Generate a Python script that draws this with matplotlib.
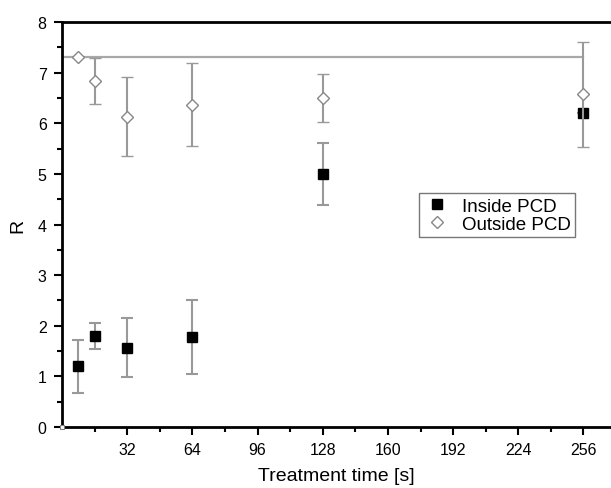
import matplotlib.pyplot as plt
from matplotlib.lines import Line2D

plt.rcParams['font.family'] = ['Liberation Sans', 'DejaVu Sans']

# treatment times [s]
t = [8, 16, 32, 64, 128, 256]

# inside PCD
r_in = [1.2, 1.8, 1.57, 1.77, 5.0, 6.2]
err_in = [0.52, 0.26, 0.59, 0.73, 0.61, 0.0]

# outside PCD
r_out = [7.3, 6.83, 6.13, 6.37, 6.5, 6.57]
err_out = [0.0, 0.45, 0.78, 0.82, 0.47, 1.03]

# reference level (untreated)
r_ref = 7.3
t_ref = [0, 256]

fig = plt.figure(figsize=(6.11, 4.89), dpi=100)
ax = fig.add_axes([0.1015, 0.1247, 0.8985, 0.8283])

ax.plot(t_ref, [r_ref, r_ref], color='#a8a8a8', lw=1.6, zorder=1)

ax.errorbar(t, r_in, yerr=err_in, fmt='s', color='black', ms=7,
            ecolor='#999999', elinewidth=1.5, capsize=4, capthick=1.5,
            zorder=3)
ax.errorbar(t, r_out, yerr=err_out, fmt='D', mfc='white', mec='#888888',
            ms=6.5, mew=1.0, ecolor='#999999', elinewidth=1.5, capsize=4,
            capthick=1.5, zorder=4)

# small open marker at origin
ax.plot([0], [0], 's', mfc='white', mec='#808080', ms=3, mew=0.8,
        clip_on=False, zorder=5)

ax.set_xlim(0, 269.5)
ax.set_ylim(0, 8)
ax.set_xticks([32, 64, 96, 128, 160, 192, 224, 256])
ax.set_xticks([16, 48, 80, 112, 144, 176, 208, 240], minor=True)
ax.set_yticks(range(0, 9))
ax.set_yticks([0.5 + i for i in range(8)], minor=True)

for side in ['left', 'bottom', 'top']:
    ax.spines[side].set_linewidth(2)
ax.spines['right'].set_visible(False)

ax.tick_params(which='major', direction='out', length=6, width=1.5,
               labelsize=11.5, pad=5)
ax.tick_params(which='minor', direction='out', length=3.5, width=1.5)

ax.set_xlabel('Treatment time [s]', fontsize=14, labelpad=7)
ax.set_ylabel('R', fontsize=14, labelpad=8)

handles = [
    Line2D([], [], ls='none', marker='s', color='black', ms=6.5),
    Line2D([], [], ls='none', marker='D', mfc='white', mec='#888888',
           ms=6, mew=1.0),
]
leg = ax.legend(handles, ['Inside PCD', 'Outside PCD'],
                loc='upper left', bbox_to_anchor=(0.651, 0.578),
                frameon=True, fancybox=False, edgecolor='#555555',
                fontsize=13.5, handletextpad=0.6, borderpad=0.25,
                labelspacing=0.05, handlelength=1.4, borderaxespad=0)
leg.get_frame().set_linewidth(1.0)

plt.savefig('out.png', dpi=100)
